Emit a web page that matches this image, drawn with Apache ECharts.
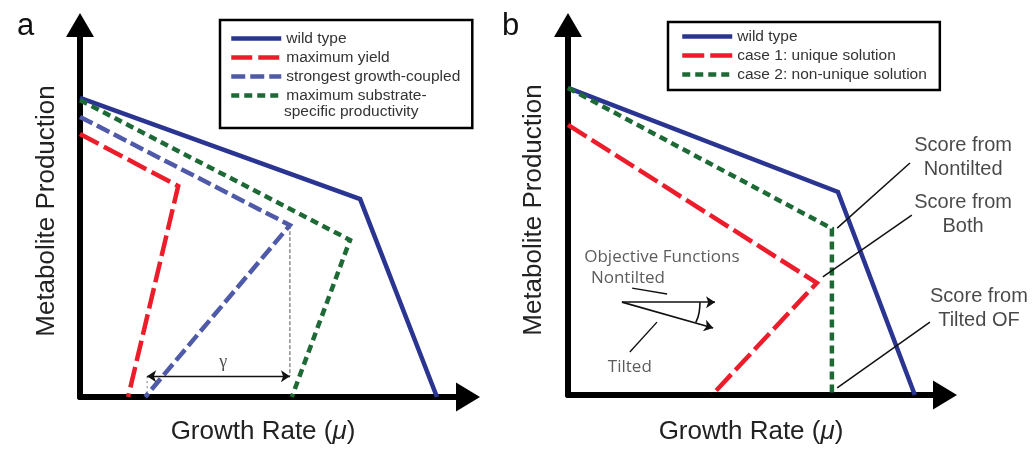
<!DOCTYPE html>
<html><head><meta charset="utf-8">
<script src="https://cdn.jsdelivr.net/npm/echarts@6/dist/echarts.min.js"></script>
<style>html,body{margin:0;padding:0;background:#fff}#c{width:1034px;height:450px}</style>
</head><body><div id="c"></div>
<script>
// ---------- Panel a ----------
const aWildType   = [[0,80.4],[72.2,53.2],[92.0,0]];
const aMaxYield   = [[0,70.7],[25.3,56.7],[12.4,0]];
const aStrongest  = [[0,75.3],[54.1,46.2],[16.8,0]];
const aMaxSSP     = [[0,79.8],[69.6,42.2],[54.6,0]];
const aGammaGuide = [[54.1,46.2],[54.1,5.6]];
const aGammaFoot  = [[17.3,5.6],[17.3,0]];
const aGammaArrow = [[17.3,5.6],[54.1,5.6]];
const aGammaLabel = [[36.9,9.3,'γ']];
const aLegendNames = ['wild type','maximum yield','strongest growth-coupled','maximum substrate-specific productivity'];
// ---------- Panel b ----------
const bWildType = [[0,83.0],[71.6,54.9],[92.0,0]];
const bCase1    = [[0,73.0],[66.0,30.3],[38.2,0]];
const bCase2    = [[0,83.0],[70.0,45.0],[70.0,0]];
const bLeaders  = [[[71.4,45.1],[90.7,62.7]],[[67.6,31.9],[91.2,48.6]],[[71.4,1.9],[96.0,19.7]]];
const bScoreLabels = [[104.8,64.3,'Score from\nNontilted'],[104.8,48.9,'Score from\nBoth'],[109.0,23.5,'Score from\nTilted OF']];
const bOFArrows  = [[[14.3,25.1],[39.0,25.1]],[[14.3,25.1],[38.5,18.1]]];
const bOFLeaders = [[[17.0,28.9],[26.3,27.3]],[[16.4,11.6],[23.6,19.7]]];
const bOFArc     = [[35.0,25.1],[34.8,22.4],[33.9,19.6]];
const bOFLabels  = [[24.9,37.3,'Objective Functions'],[15.9,31.6,'Nontilted'],[16.4,7.6,'Tilted']];
const bLegendNames = ['wild type','case 1: unique solution','case 2: non-unique solution'];

const BLUE='#2a3592', RED='#ec1c2a', PURPLE='#4f5aa8', GREEN='#1e6a36';
const SANS='Liberation Sans, Arial, sans-serif';
const HUM='Open Sans, Lato, sans-serif';

function xAx(g, pad, gap){
  return {type:'value', gridIndex:g, min:0, max:100, name:'Growth Rate ({i|μ})', nameLocation:'middle', nameGap:gap,
    nameTextStyle:{fontSize:26, color:'#222', fontFamily:SANS, padding:pad, rich:{i:{fontStyle:'italic', fontSize:26, color:'#222', fontFamily:SANS}}},
    axisLine:{show:true, onZero:false, lineStyle:{color:'#000', width:6}, symbol:['none','triangle'], symbolSize:[29,24]},
    axisTick:{show:false}, axisLabel:{show:false}, splitLine:{show:false}};
}
function yAx(g, gap){
  return {type:'value', gridIndex:g, min:0, max:100, name:'Metabolite Production', nameLocation:'middle', nameGap:gap,
    nameTextStyle:{fontSize:26, color:'#222', fontFamily:SANS},
    axisLine:{show:true, onZero:false, lineStyle:{color:'#000', width:6}, symbol:['none','triangle'], symbolSize:[28,24]},
    axisTick:{show:false}, axisLabel:{show:false}, splitLine:{show:false}};
}
function curve(name, g, data, color, dash){
  return {type:'line', name:name, xAxisIndex:g, yAxisIndex:g, data:data, symbol:'none', clip:false,
    lineStyle:{color:color, width:4.5, type:dash||'solid', cap:'butt', join:'miter'}, itemStyle:{color:color}, z:5};
}
function segs(g, list, sym, width){
  return {type:'lines', coordinateSystem:'cartesian2d', xAxisIndex:g, yAxisIndex:g, silent:true,
    data:list.map(c=>({coords:c})), symbol:sym||'none', symbolSize:9,
    lineStyle:{color:'#111', width:width||1.5, opacity:1}, z:6};
}
function labels(g, list, style){
  return {type:'scatter', xAxisIndex:g, yAxisIndex:g, clip:false, silent:true, symbolSize:1,
    itemStyle:{color:'rgba(0,0,0,0)'},
    data:list.map(d=>({value:[d[0],d[1]], name:d[2]})),
    label:Object.assign({show:true, position:'inside', formatter:p=>p.name, align:'center'}, style), z:7};
}
const legendCommon = {orient:'vertical', selectedMode:false, itemWidth:50, itemHeight:14, itemGap:0,
  borderColor:'#000', borderWidth:2.5, backgroundColor:'#fff',
  itemStyle:{opacity:0, borderWidth:0},
  lineStyle:{width:4.5},
  textStyle:{fontSize:15.5, lineHeight:19, color:'#333', fontFamily:SANS}};

const chart = echarts.init(document.getElementById('c'), null, {renderer:'canvas'});
chart.setOption({
  animation:false,
  backgroundColor:'#fff',
  title:[
    {text:'a', left:12, top:6, textStyle:{fontSize:31, fontWeight:'normal', color:'#111', fontFamily:SANS}},
    {text:'b', left:497, top:6, textStyle:{fontSize:31, fontWeight:'normal', color:'#111', fontFamily:SANS}}
  ],
  grid:[
    {left:80, top:25, width:388, height:372},
    {left:568, top:25, width:377, height:370}
  ],
  xAxis:[xAx(0,[0,22,0,0],22), xAx(1,[0,11,0,0],24)],
  yAxis:[yAx(0,20), yAx(1,21)],
  legend:[
    Object.assign({}, legendCommon, {left:220, top:20, data:aLegendNames, padding:[9,12,23,9],
     formatter:n=> n==='maximum substrate-specific productivity' ? 'maximum substrate-' : n}),
    Object.assign({}, legendCommon, {left:668, top:22, data:bLegendNames, padding:[5,13,6,12]})
  ],
  graphic:[
    {type:'text', left:284, top:104, z:100, style:{text:'specific productivity', fontSize:15.5, fill:'#333', fontFamily:SANS}}
  ],
  series:[
    // panel a
    curve('wild type', 0, aWildType, BLUE),
    curve('maximum yield', 0, aMaxYield, RED, [21,6]),
    curve('strongest growth-coupled', 0, aStrongest, PURPLE, [14,5]),
    curve('maximum substrate-specific productivity', 0, aMaxSSP, GREEN, [8,5]),
    {type:'line', xAxisIndex:0, yAxisIndex:0, data:aGammaGuide, symbol:'none', silent:true,
     lineStyle:{color:'#555', width:1, type:[4,2]}, z:4},
    {type:'line', xAxisIndex:0, yAxisIndex:0, data:aGammaFoot, symbol:'none', silent:true,
     lineStyle:{color:'#777', width:1, type:[2,3]}, z:4},
    segs(0, [aGammaArrow], ['arrow','arrow'], 1.4),
    labels(0, aGammaLabel, {fontSize:18, color:'#222', fontFamily:'Liberation Serif, Times New Roman, serif'}),
    // panel b
    curve('wild type', 1, bWildType, BLUE),
    curve('case 1: unique solution', 1, bCase1, RED, [22,6]),
    curve('case 2: non-unique solution', 1, bCase2, GREEN, [8,5]),
    segs(1, bLeaders, 'none', 1.5),
    segs(1, bOFArrows, ['none','arrow'], 1.6),
    segs(1, bOFLeaders, 'none', 1.4),
    {type:'line', xAxisIndex:1, yAxisIndex:1, data:bOFArc, symbol:'none', smooth:true, silent:true,
     lineStyle:{color:'#111', width:1.6}, z:6},
    labels(1, bScoreLabels, {fontSize:20, lineHeight:24, color:'#1a1a1a', fontFamily:SANS}),
    labels(1, bOFLabels, {fontSize:17, color:'#333', fontFamily:HUM})
  ]
});
</script>
</body></html>
